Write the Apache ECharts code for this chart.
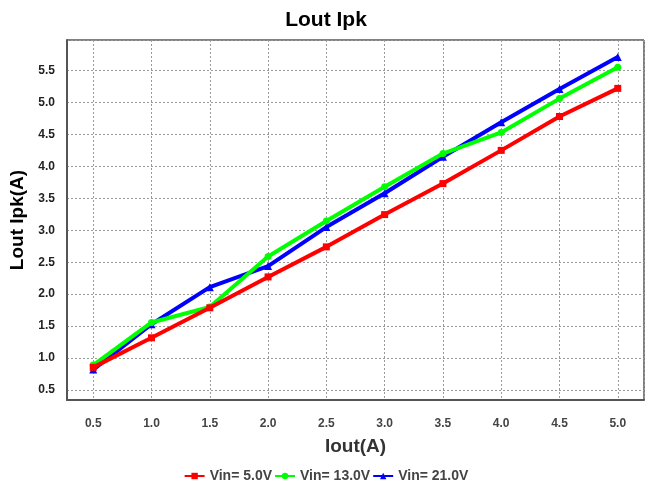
<!DOCTYPE html>
<html>
<head>
<meta charset="utf-8">
<script src="https://cdn.jsdelivr.net/npm/echarts@6/dist/echarts.min.js"></script>
<style>html,body{margin:0;padding:0;background:#fff}#c{width:652px;height:491px}</style>
</head>
<body>
<div id="c"></div>
<script>
const xValues = [0.5, 1.0, 1.5, 2.0, 2.5, 3.0, 3.5, 4.0, 4.5, 5.0];
const vin5 = [0.855, 1.317, 1.786, 2.27, 2.74, 3.245, 3.73, 4.25, 4.78, 5.22];
const vin13 = [0.89, 1.557, 1.80, 2.59, 3.145, 3.68, 4.20, 4.53, 5.06, 5.55];
const vin21 = [0.82, 1.53, 2.11, 2.44, 3.05, 3.58, 4.15, 4.69, 5.21, 5.71];
const seriesNames = ['Vin= 5.0V', 'Vin= 13.0V', 'Vin= 21.0V'];
const seriesColors = ['#ff0000', '#00ff00', '#0000ff'];
const seriesSymbols = ['rect', 'circle', 'triangle'];

const pair = arr => xValues.map((x, i) => [x, arr[i]]);
const dataSets = [vin5, vin13, vin21];
const zs = [4, 3, 2];
const font = 'Liberation Sans, Arial, sans-serif';

const chart = echarts.init(document.getElementById('c'), null, {renderer: 'canvas'});
chart.setOption({
  animation: false,
  backgroundColor: '#fff',
  title: {
    text: 'Lout Ipk', left: 'center', top: 5,
    textStyle: {fontFamily: font, fontWeight: 'bold', fontSize: 21, color: '#000'}
  },
  legend: {
    bottom: 3, left: 'center', itemWidth: 20, itemHeight: 8, itemGap: 2,
    data: seriesNames,
    textStyle: {fontFamily: font, fontWeight: 'bold', fontSize: 14, color: '#444'}
  },
  grid: {left: 67, top: 40, right: 8, bottom: 91, show: true, borderColor: '#000', borderWidth: 1, containLabel: false},
  xAxis: {
    type: 'value', min: 0.275, max: 5.225, minInterval: 0.5, maxInterval: 0.5,
    name: 'Iout(A)', nameLocation: 'middle', nameGap: 37,
    nameTextStyle: {fontFamily: font, fontWeight: 'bold', fontSize: 19, color: '#333'},
    axisLine: {show: true, lineStyle: {color: '#555', width: 2}},
    axisTick: {show: false},
    axisLabel: {showMinLabel: false, showMaxLabel: false, margin: 18, fontFamily: font, fontWeight: 'bold', fontSize: 12, color: '#444',
      formatter: v => v.toFixed(1)},
    splitLine: {show: true, lineStyle: {color: '#999', width: 1, type: [2, 2]}}
  },
  yAxis: {
    type: 'value', min: 0.344, max: 5.977, minInterval: 0.5, maxInterval: 0.5,
    name: 'Lout Ipk(A)', nameLocation: 'middle', nameGap: 34, nameRotate: 90,
    nameTextStyle: {fontFamily: font, fontWeight: 'bold', fontSize: 19, color: '#000'},
    axisLine: {show: true, lineStyle: {color: '#555', width: 2}},
    axisTick: {show: false},
    axisLabel: {showMinLabel: false, showMaxLabel: false, margin: 12, fontFamily: font, fontWeight: 'bold', fontSize: 12, color: '#222',
      formatter: v => v.toFixed(1)},
    splitLine: {show: true, lineStyle: {color: '#999', width: 1, type: [2, 2]}}
  },
  series: dataSets.map((d, i) => ({
    name: seriesNames[i], type: 'line', data: pair(d), z: zs[i],
    symbol: seriesSymbols[i], symbolSize: i === 2 ? 8 : 7, showSymbol: true,
    lineStyle: {color: seriesColors[i], width: 4},
    itemStyle: {color: seriesColors[i]}
  }))
});
</script>
</body>
</html>
